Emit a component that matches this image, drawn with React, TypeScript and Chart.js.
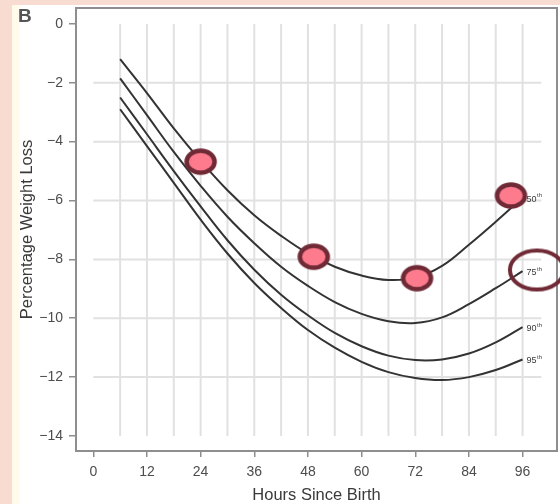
import React, { useEffect, useRef } from 'react';
import { Chart, registerables } from 'chart.js';

Chart.register(...registerables);

// ---- data ----
const hours = [6, 12, 18, 24, 30, 36, 42, 48, 54, 60, 66, 72, 78, 84, 90, 96];
const p50 = [-1.2, -2.35, -3.55, -4.65, -5.65, -6.5, -7.2, -7.8, -8.25, -8.55, -8.7, -8.62, -8.22, -7.5, -6.72, -5.9];
const p75 = [-1.85, -3.1, -4.35, -5.5, -6.55, -7.45, -8.25, -8.9, -9.45, -9.85, -10.1, -10.16, -9.97, -9.52, -8.98, -8.4];
const p90 = [-2.5, -3.75, -5.0, -6.2, -7.35, -8.35, -9.2, -9.9, -10.5, -10.95, -11.27, -11.42, -11.4, -11.2, -10.82, -10.3];
const p95 = [-2.9, -4.15, -5.4, -6.65, -7.8, -8.8, -9.65, -10.4, -11.0, -11.48, -11.83, -12.03, -12.1, -12.0, -11.76, -11.4];
const percentileNames = ['50', '75', '90', '95'];

const observedHours = [24, 49.3, 72.4, 93.4];
const observedLoss = [-4.68, -7.91, -8.64, -5.83];

const ringHours = [99.2];
const ringLoss = [-8.36];

const xTicks = [0, 12, 24, 36, 48, 60, 72, 84, 96];
const yTicks = [0, -2, -4, -6, -8, -10, -12, -14];
const xGrid = [6, 12, 18, 24, 30, 36, 42, 48, 54, 60, 66, 72, 78, 84, 90, 96];
const yGrid = [-2, -4, -6, -8, -10, -12];
const xGridEnd = 100.2;

const panelLetter = 'B';
const xTitle = 'Hours Since Birth';
const yTitle = 'Percentage Weight Loss';

const FONT = "'Liberation Sans', Arial, Helvetica, sans-serif";

function makeEllipse(rx: number, ry: number, lw: number, fill: string | null, stroke: string) {
  const c = document.createElement('canvas');
  const w = Math.ceil(2 * rx + lw + 4);
  const h = Math.ceil(2 * ry + lw + 4);
  c.width = w;
  c.height = h;
  const g = c.getContext('2d')!;
  g.beginPath();
  g.ellipse(w / 2, h / 2, rx, ry, 0, 0, Math.PI * 2);
  if (fill) {
    g.fillStyle = fill;
    g.fill();
  }
  g.lineWidth = lw;
  g.strokeStyle = stroke;
  g.stroke();
  return c;
}

const gridPlugin = {
  id: 'customGrid',
  beforeDatasetsDraw(chart: any) {
    const { ctx, chartArea: a, scales } = chart;
    const x = scales.x;
    const y = scales.y;
    ctx.save();
    ctx.strokeStyle = '#e1e1e1';
    ctx.lineWidth = 2;
    const yTop = y.getPixelForValue(yTicks[0]);
    const yBot = y.getPixelForValue(yTicks[yTicks.length - 1]);
    xGrid.forEach((h) => {
      const px = x.getPixelForValue(h);
      ctx.beginPath();
      ctx.moveTo(px, yTop);
      ctx.lineTo(px, yBot);
      ctx.stroke();
    });
    const xL = x.getPixelForValue(xTicks[0]);
    const xR = x.getPixelForValue(xGridEnd);
    yGrid.forEach((v) => {
      const py = y.getPixelForValue(v);
      ctx.beginPath();
      ctx.moveTo(xL, py);
      ctx.lineTo(xR, py);
      ctx.stroke();
    });
    ctx.strokeStyle = '#8e8e8e';
    ctx.lineWidth = 2;
    ctx.strokeRect(a.left, a.top, a.right - a.left, a.bottom - a.top);
    ctx.restore();
  },
};

const labelPlugin = {
  id: 'curveLabels',
  afterDatasetsDraw(chart: any) {
    const { ctx } = chart;
    ctx.save();
    ctx.fillStyle = '#3a3a3a';
    percentileNames.forEach((name, i) => {
      const idx = chart.data.datasets.findIndex((d: any) => d.pctIndex === i);
      const meta = chart.getDatasetMeta(idx);
      const last = meta.data[meta.data.length - 1];
      const px = last.x + 4;
      const py = last.y;
      ctx.font = `9px ${FONT}`;
      ctx.textAlign = 'left';
      ctx.textBaseline = 'middle';
      ctx.fillText(name, px, py + 1.5);
      const w = ctx.measureText(name).width;
      ctx.font = `6px ${FONT}`;
      ctx.fillText('th', px + w + 0.5, py - 2);
    });
    ctx.fillStyle = '#555';
    ctx.font = `bold 19px ${FONT}`;
    ctx.textAlign = 'left';
    ctx.textBaseline = 'alphabetic';
    ctx.fillText(panelLetter, 18, 22);
    ctx.restore();
  },
};

const fmt = (v: number) => (v < 0 ? '\u2212' + Math.abs(v) : String(v));

const zeroPad = (s: any) => {
  s.paddingTop = 0;
  s.paddingBottom = 0;
  s.paddingLeft = 0;
  s.paddingRight = 0;
};

export default function App() {
  const ref = useRef<HTMLCanvasElement | null>(null);

  useEffect(() => {
    if (!ref.current) return;
    const dot = makeEllipse(14, 11, 4.5, '#fd7b8c', '#6f2a36');
    const ring = makeEllipse(27, 19.5, 4, null, '#6f2a36');
    const series = [p50, p75, p90, p95];
    const lineSets = series.map((s, i) => ({
      type: 'line',
      pctIndex: i,
      data: hours.map((h, k) => ({ x: h, y: s[k] })),
      borderColor: '#333333',
      borderWidth: 2,
      pointRadius: 0,
      tension: 0.4,
      fill: false,
      order: 2,
    }));
    const chart = new Chart(ref.current, {
      type: 'scatter',
      data: {
        datasets: [
          {
            type: 'scatter',
            data: observedHours.map((h, k) => ({ x: h, y: observedLoss[k] })),
            pointStyle: dot as any,
            pointRadius: 14,
            order: 0,
          } as any,
          {
            type: 'scatter',
            data: ringHours.map((h, k) => ({ x: h, y: ringLoss[k] })),
            pointStyle: ring as any,
            pointRadius: 27,
            clip: false,
            order: 0,
          } as any,
          ...(lineSets as any),
        ],
      },
      plugins: [gridPlugin, labelPlugin],
      options: {
        responsive: false,
        animation: false,
        events: [],
        layout: { autoPadding: false, padding: { top: 8, right: 3, left: 0, bottom: 0 } },
        plugins: { legend: { display: false }, tooltip: { enabled: false } },
        scales: {
          x: {
            type: 'linear',
            min: -3.87,
            max: 103.7,
            afterBuildTicks: (s: any) => {
              s.ticks = xTicks.map((v) => ({ value: v }));
            },
            afterFit: (s: any) => {
              s.height = 53;
              zeroPad(s);
            },
            grid: { display: true, drawOnChartArea: false, drawTicks: true, tickLength: 6, color: '#8e8e8e', lineWidth: 1.5 },
            border: { display: false },
            ticks: {
              autoSkip: false,
              maxRotation: 0,
              padding: 7,
              color: '#4d4d4d',
              font: { family: FONT, size: 14 },
              callback: (v: any) => fmt(Number(v)),
            },
            title: {
              display: true,
              text: xTitle,
              color: '#3a3a3a',
              font: { family: FONT, size: 16.5, lineHeight: 1 },
              padding: { top: 0, bottom: 0 },
            },
          },
          y: {
            type: 'linear',
            min: -14.51,
            max: 0.54,
            afterBuildTicks: (s: any) => {
              s.ticks = yTicks.map((v) => ({ value: v }));
            },
            afterFit: (s: any) => {
              s.width = 76;
              zeroPad(s);
            },
            grid: { display: true, drawOnChartArea: false, drawTicks: true, tickLength: 7, color: '#8e8e8e', lineWidth: 1.5 },
            border: { display: false },
            ticks: {
              autoSkip: false,
              padding: 6,
              color: '#4d4d4d',
              font: { family: FONT, size: 14 },
              callback: (v: any) => fmt(Number(v)),
            },
            title: {
              display: true,
              text: yTitle,
              color: '#3a3a3a',
              font: { family: FONT, size: 16.5, lineHeight: 1 },
              padding: { top: 19, bottom: 0 },
            },
          },
        },
      } as any,
    } as any);
    return () => chart.destroy();
  }, []);

  return (
    <div style={{ position: 'fixed', left: 0, top: 0, width: 560, height: 504, background: '#f8dcd2', overflow: 'hidden' }}>
      <div
        style={{
          position: 'absolute',
          left: 12,
          top: 5,
          width: 548,
          height: 499,
          background: 'linear-gradient(to right, #fffaea 0px, #fffaea 6px, #ffffff 9px)',
        }}
      />
      <canvas ref={ref} width={560} height={504} style={{ position: 'absolute', left: 0, top: 0, width: 560, height: 504 }} />
    </div>
  );
}
